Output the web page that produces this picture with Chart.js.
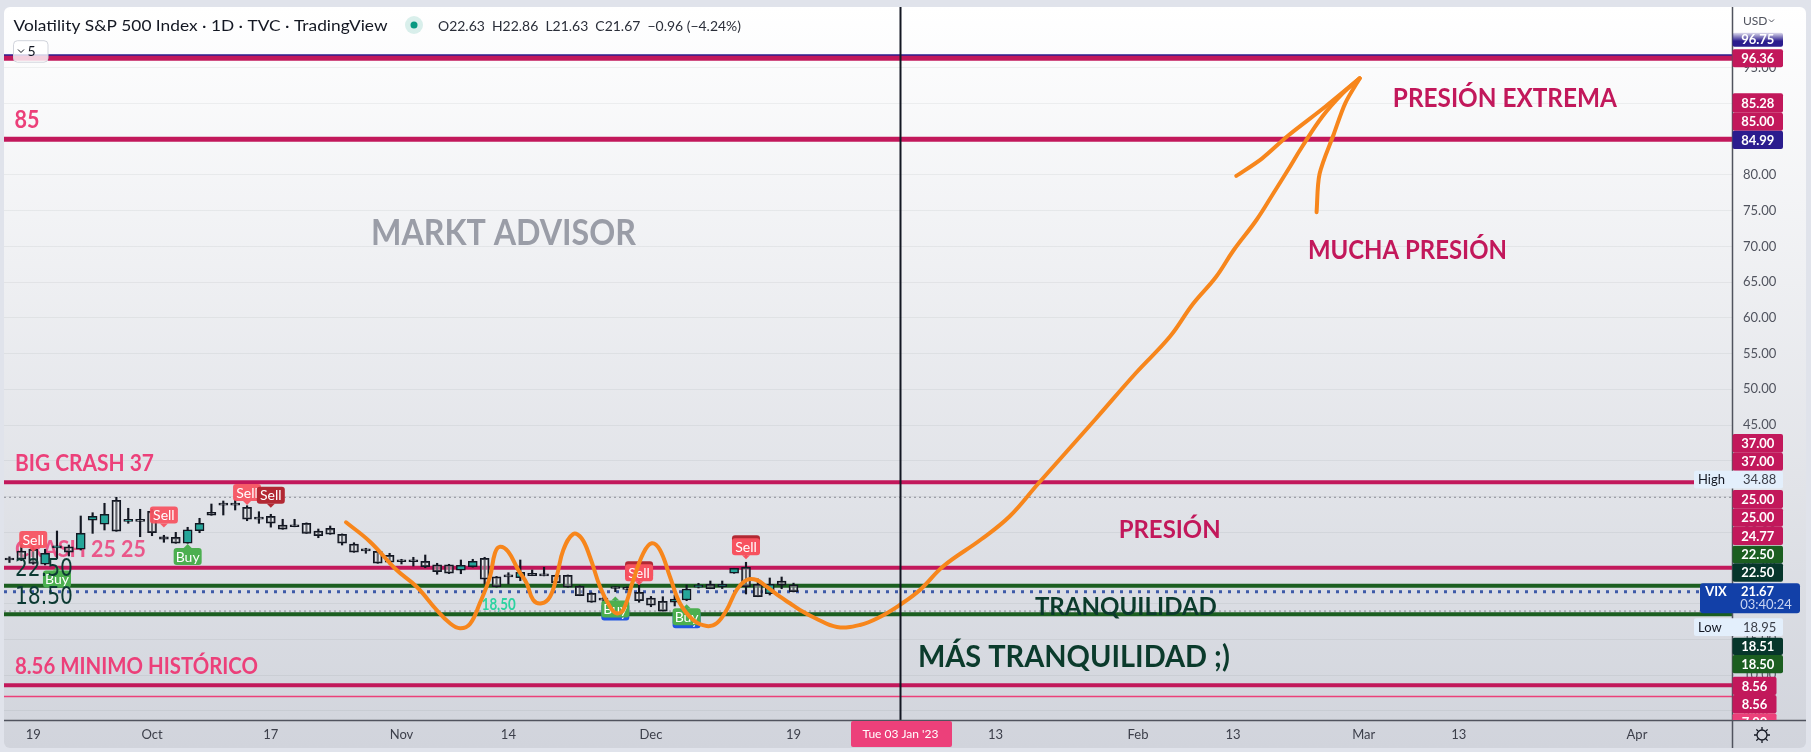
<!DOCTYPE html>
<html lang="es">
<head>
<meta charset="utf-8">
<title>Volatility S&P 500 Index · 1D</title>
<script src="https://cdn.jsdelivr.net/npm/chart.js@4.4.1/dist/chart.umd.min.js"></script>
<style>
  html, body { margin: 0; padding: 0; background: #e0e3eb; }
  #grafico { display: block; }
</style>
</head>
<body>
<canvas id="grafico" width="1811" height="752"></canvas>
<script>
// Velas diarias del VIX (15 sep 2022 - 19 dic 2022), eje x = número de barra
const apertura = [26.15, 27.36, 27.60, 25.50, 27.80, 27.96, 27.60, 31.66, 31.10, 34.46,
  31.50, 31.55, 32.90, 29.36, 29.27, 28.44, 30.20, 32.78, 33.82, 33.82,
  33.48, 31.86, 32.22, 31.00, 30.80, 31.24, 30.16, 30.53, 29.70, 28.34,
  27.42, 27.32, 26.76, 25.89, 25.89, 25.92, 25.44, 25.44, 24.66, 25.16,
  26.34, 23.76, 23.78, 23.62, 24.24, 23.92, 23.96, 23.96, 22.42, 21.44,
  20.52, 22.15, 22.02, 21.58, 20.78, 20.32, 20.18, 20.50, 22.28, 22.70,
  22.36, 24.24, 25.08, 22.70, 21.38, 23.16, 22.63];
const maximo = [26.55, 28.25, 27.90, 27.60, 30.16, 28.20, 32.26, 32.72, 34.04, 34.88,
  33.34, 33.20, 33.20, 29.56, 29.97, 30.68, 31.94, 33.94, 34.36, 34.50,
  33.70, 32.86, 32.50, 31.80, 31.80, 31.30, 30.44, 30.86, 29.75, 28.52,
  27.74, 27.50, 27.04, 26.20, 26.48, 26.80, 25.64, 25.50, 26.10, 26.20,
  26.48, 23.80, 24.32, 26.10, 24.70, 25.08, 24.00, 24.00, 22.50, 21.50,
  20.85, 22.36, 22.36, 22.60, 21.00, 20.96, 21.20, 22.60, 22.84, 23.16,
  23.16, 24.94, 25.78, 23.44, 23.58, 23.72, 22.86];
const minimo = [25.75, 26.00, 25.50, 25.40, 26.30, 26.66, 27.50, 29.83, 30.30, 30.12,
  31.24, 29.36, 29.50, 28.58, 28.44, 28.44, 29.92, 32.36, 32.40, 33.10,
  31.60, 31.24, 30.70, 30.40, 30.75, 29.83, 29.22, 29.70, 28.20, 27.18,
  27.04, 25.64, 25.54, 25.54, 25.26, 25.02, 24.10, 24.20, 24.18, 25.10,
  22.74, 22.30, 22.74, 23.20, 23.90, 23.88, 22.92, 22.28, 21.10, 20.18,
  20.26, 21.66, 21.90, 20.18, 19.56, 18.95, 19.66, 20.40, 22.18, 22.08,
  22.10, 24.24, 21.34, 20.96, 21.20, 22.08, 21.63];
const cierre = [26.10, 26.20, 25.63, 27.03, 27.95, 27.20, 29.83, 32.22, 32.50, 30.12,
  31.80, 31.50, 29.92, 29.00, 28.44, 30.34, 31.24, 32.36, 33.78, 33.78,
  31.80, 31.82, 31.24, 30.40, 30.75, 29.83, 29.50, 29.70, 28.44, 27.18,
  27.38, 25.64, 25.78, 25.85, 25.85, 25.16, 24.46, 24.24, 25.36, 25.92,
  23.40, 22.36, 23.74, 24.38, 23.90, 23.88, 22.92, 22.28, 21.10, 20.18,
  20.48, 22.11, 21.98, 20.40, 19.76, 18.95, 20.64, 22.04, 22.60, 22.08,
  22.70, 24.94, 22.36, 20.96, 22.70, 22.56, 21.67];

// etiquetas del eje de tiempo (número de barra)
const tickIdx = [2, 12, 22, 33, 42, 54, 66, 83, 95, 103, 114, 122, 137];
const tickLbl = ['19', 'Oct', '17', 'Nov', '14', 'Dec', '19', '13', 'Feb', '13', 'Mar', '13', 'Apr'];
const yTicks = [5, 10, 15, 20, 25, 30, 35, 40, 45, 50, 55, 60, 65, 70, 75, 80, 85, 90, 95];

// niveles horizontales dibujados
const nivelValor = [96.75, 96.36, 85.00, 37.00, 34.88, 25.00, 22.50, 21.67, 18.95, 18.50, 8.56, 7.00];

// señales Buy / Sell
const senalIdx = [2, 4, 13, 15, 20, 22, 51, 53, 57, 62];
const senalTipo = ['sell', 'buy', 'sell', 'buy', 'sell', 'sellDark', 'buyBlue', 'sellStack', 'buyBlue', 'sellStack'];
const senalValor = [28.97, 23.44, 32.40, 26.59, 35.55, 35.16, 19.24, 24.31, 18.16, 27.95];

// trazo naranja a mano alzada
const curvaIdx = [28.33, 30.35, 32.59, 34.28, 35.96, 37.08, 37.92, 38.76, 39.60, 40.45,
  40.87, 41.29, 41.99, 42.83, 43.54, 44.09, 44.80, 45.50, 46.06, 46.62,
  47.46, 48.16, 48.86, 49.71, 50.55, 51.11, 51.67, 52.51, 53.35, 54.06,
  54.76, 55.60, 56.44, 57.56, 58.69, 59.53, 60.37, 61.21, 62.05, 62.90,
  63.74, 64.86, 65.70, 66.54, 67.80, 69.65, 71.59, 73.27, 75.00, 76.64,
  78.63, 81.78, 84.18, 86.57, 91.43, 94.82, 97.69, 99.62, 101.56, 103.03,
  104.97, 106.41, 107.62, 108.80, 110.52, 112.21, 113.66];
const curvaVal = [31.38, 28.66, 24.70, 22.36, 19.10, 17.24, 16.54, 17.14, 20.08, 23.76,
  27.08, 27.96, 27.26, 24.70, 22.84, 20.50, 20.04, 20.96, 23.76, 27.50,
  29.74, 29.14, 26.56, 22.36, 19.56, 18.64, 19.10, 23.30, 27.04, 28.44,
  27.50, 23.76, 20.04, 17.70, 16.86, 17.24, 19.10, 21.90, 23.30, 23.30,
  22.36, 20.96, 20.04, 19.10, 17.98, 16.72, 17.00, 18.12, 19.87, 21.90,
  25.26, 28.97, 32.19, 36.74, 45.84, 52.28, 57.38, 61.94, 65.72, 69.43,
  73.70, 77.48, 80.70, 83.92, 88.19, 91.39, 93.54];
const flechaIzqIdx = [103.27, 105.43, 107.62, 110.73, 113.66];
const flechaIzqVal = [79.87, 82.30, 85.50, 89.52, 93.54];
const flechaDerIdx = [110.03, 110.28, 111.49, 112.45, 113.66];
const flechaDerVal = [74.79, 80.14, 85.77, 90.07, 93.54];

const CRIMSON = '#c2185b';
const ROSA = '#ec407a';
const VERDE_OSC = '#0b3b2c';
const NARANJA = '#f7861c';

const puntos = (xs, ys) => xs.map((x, i) => ({ x: x, y: ys[i] }));

// texto ajustado a un ancho dado, centrado verticalmente en yc
function texto(c, txt, x, yc, ancho, size, peso, familia, color) {
  c.save();
  c.font = peso + ' ' + size + 'px ' + familia;
  const w = c.measureText(txt).width;
  c.translate(x, yc + size * 0.36);
  if (ancho) c.scale(ancho / w, 1);
  c.fillStyle = color;
  c.textAlign = 'left';
  c.textBaseline = 'alphabetic';
  c.fillText(txt, 0, 0);
  c.restore();
}

function caja(c, x, y, w, h, r, color) {
  c.fillStyle = color;
  c.beginPath();
  c.roundRect(x, y, w, h, r);
  c.fill();
}

function etiquetaSenal(c, x, yc, tipo) {
  const w = 28, h = 17;
  const dibuja = (color, dy, texto2, arriba) => {
    const y0 = yc - h / 2 + dy;
    caja(c, x - w / 2, y0, w, h, 3, color);
    c.beginPath();
    if (arriba) {
      c.moveTo(x - 4, y0); c.lineTo(x, y0 - 4); c.lineTo(x + 4, y0);
    } else {
      c.moveTo(x - 4, y0 + h); c.lineTo(x, y0 + h + 4); c.lineTo(x + 4, y0 + h);
    }
    c.fill();
    c.fillStyle = '#ffffff';
    c.font = '14px Lato';
    c.textAlign = 'center';
    c.textBaseline = 'middle';
    c.fillText(texto2, x, y0 + h / 2 + 0.5);
  };
  c.save();
  if (tipo === 'sell') dibuja('rgba(247,82,95,0.93)', 0, 'Sell', false);
  if (tipo === 'sellDark') dibuja('#b22833', 0, 'Sell', false);
  if (tipo === 'sellStack') { dibuja('#b22833', -3, 'Sell', false); dibuja('#f7525f', 0, 'Sell', false); }
  if (tipo === 'buy') dibuja('#4caf50', 0, 'Buy', true);
  if (tipo === 'buyBlue') { dibuja('#2156e0', 3, 'Buy', true); dibuja('#4caf50', 0, 'Buy', true); }
  c.restore();
}

const estiloNivel = [
  { color: '#2b1d8e', w: 2 }, { color: CRIMSON, w: 5 }, { color: CRIMSON, w: 5 },
  { color: CRIMSON, w: 4 }, { color: '#8a8d96', w: 1, dash: [2, 3] }, { color: CRIMSON, w: 4 },
  { color: '#1b5e20', w: 4 }, { color: '#3d5aa8', w: 3, dash: [3, 6] }, { color: '#8a8d96', w: 1, dash: [2, 3] },
  { color: '#1b5e20', w: 4 }, { color: CRIMSON, w: 4 }, { color: ROSA, w: 1.5 }
];

// textos dibujados sobre el gráfico (posición en barra / valor)
const notas = [
  { t: '85', i: 0.43, v: 87.77, w: 25, s: 24, p: 'bold', f: 'Lato', c: ROSA },
  { t: 'MARKT ADVISOR', i: 30.43, v: 72.09, w: 265, s: 37, p: 'bold', f: 'Lato', c: '#9a9da7' },
  { t: 'PRESIÓN EXTREMA', i: 116.45, v: 90.78, w: 224, s: 26, p: 'bold', f: 'Lato', c: CRIMSON },
  { t: 'MUCHA PRESIÓN', i: 109.3, v: 69.6, w: 199, s: 26, p: 'bold', f: 'Lato', c: CRIMSON },
  { t: 'PRESIÓN', i: 93.37, v: 30.4, w: 102, s: 25, p: 'bold', f: 'Lato', c: CRIMSON },
  { t: 'TRANQUILIDAD', i: 86.32, v: 19.7, w: 182, s: 25, p: 'bold', f: 'Lato', c: VERDE_OSC },
  { t: 'MÁS TRANQUILIDAD ;)', i: 76.47, v: 12.66, w: 312, s: 30, p: 'bold', f: 'Lato', c: VERDE_OSC },
  { t: 'BIG CRASH 37', i: 0.46, v: 39.68, w: 139, s: 22, p: 'bold', f: 'Lato', c: ROSA },
  { t: 'CRASH 25 25', i: 0.46, v: 27.57, w: 131, s: 22, p: 'bold', f: 'Lato', c: 'rgba(236,64,122,0.85)' },
  { t: '18,50', i: 39.75, v: 19.94, w: 34, s: 17, p: 'bold', f: 'Lato', c: '#2cd3a0' },
  { t: '8.56 MINIMO HISTÓRICO', i: 0.46, v: 11.26, w: 243, s: 22, p: 'bold', f: 'Lato', c: ROSA }
];
const notasArriba = [
  { t: '22.50', i: 0.46, v: 25.12, w: 58, s: 25, p: 'normal', f: 'DejaVu Sans', c: '#0d3b34' },
  { t: '18.50', i: 0.46, v: 21.2, w: 58, s: 25, p: 'normal', f: 'DejaVu Sans', c: '#0d3b34' }
];

// etiquetas de precio del eje derecho (apiladas como en TradingView)
const etiquetasEje = [
  { t: '96.75', bg: '#2b1d8e', y0: 32.7, h: 14, fade: true },
  { t: '96.36', bg: CRIMSON, y0: 49.3, h: 18 },
  { t: '85.28', bg: CRIMSON, y0: 93.3, h: 19.4 },
  { t: '85.00', bg: CRIMSON, y0: 112.7, h: 18 },
  { t: '84.99', bg: '#2b1d8e', y0: 130.7, h: 18.3 },
  { t: '37.00', bg: CRIMSON, y0: 434, h: 18.7 },
  { t: '37.00', bg: CRIMSON, y0: 452.7, h: 18 },
  { t: '25.00', bg: CRIMSON, y0: 490, h: 18.3 },
  { t: '25.00', bg: CRIMSON, y0: 508.3, h: 18.4 },
  { t: '24.77', bg: CRIMSON, y0: 526.7, h: 18.3 },
  { t: '22.50', bg: '#1b5e20', y0: 545.7, h: 17.6 },
  { t: '22.50', bg: '#06362b', y0: 563.3, h: 18.4 },
  { t: '18.51', bg: '#06362b', y0: 637.7, h: 17.3 },
  { t: '18.50', bg: '#1b5e20', y0: 655, h: 18.3 },
  { t: '8.56', bg: CRIMSON, y0: 676.7, h: 18.3, w: 44 },
  { t: '8.56', bg: CRIMSON, y0: 695, h: 18.3, w: 44 },
  { t: '7.00', bg: ROSA, y0: 713.3, h: 18.3, w: 44 }
];

const pluginDibujo = {
  id: 'dibujo',
  beforeDraw(chart) {
    const c = chart.ctx;
    c.save();
    c.fillStyle = '#e0e3eb';
    c.fillRect(0, 0, chart.width, chart.height);
    const g = c.createLinearGradient(0, 7, 0, 748);
    g.addColorStop(0, '#ffffff');
    g.addColorStop(1, '#d1d4dc');
    caja(c, 4, 7, 1802, 741, 6, g);
    c.restore();
  },
  beforeDatasetsDraw(chart) {
    const c = chart.ctx, a = chart.chartArea, xs = chart.scales.x, ys = chart.scales.y;
    c.save();
    c.beginPath();
    c.rect(a.left, a.top - 4, a.right - a.left, a.bottom - a.top + 4);
    c.clip();
    nivelValor.forEach((v, k) => {
      const st = estiloNivel[k];
      const y = ys.getPixelForValue(v);
      c.strokeStyle = st.color;
      c.lineWidth = st.w;
      c.setLineDash(st.dash || []);
      c.beginPath();
      c.moveTo(a.left, y);
      c.lineTo(a.right, y);
      c.stroke();
    });
    c.setLineDash([]);
    notas.forEach(n => texto(c, n.t, xs.getPixelForValue(n.i), ys.getPixelForValue(n.v), n.w, n.s, n.p, n.f, n.c));
    c.restore();
  },
  afterDatasetDraw(chart, args) {
    if (args.index !== 3) return;
    const c = chart.ctx, xs = chart.scales.x, ys = chart.scales.y;
    senalIdx.forEach((i, k) => etiquetaSenal(c, xs.getPixelForValue(i), ys.getPixelForValue(senalValor[k]), senalTipo[k]));
    notasArriba.forEach(n => texto(c, n.t, xs.getPixelForValue(n.i), ys.getPixelForValue(n.v), n.w, n.s, n.p, n.f, n.c));
  },
  afterDraw(chart) {
    const c = chart.ctx, a = chart.chartArea, xs = chart.scales.x, ys = chart.scales.y;
    c.save();
    // línea vertical del cursor (3 ene 2023)
    const xc = Math.round(xs.getPixelForValue(75)) + 0.5;
    c.strokeStyle = '#131722';
    c.lineWidth = 2;
    c.beginPath();
    c.moveTo(xc, 7);
    c.lineTo(xc, a.bottom);
    c.stroke();

    // separadores de ejes
    c.strokeStyle = '#50535e';
    c.lineWidth = 1.5;
    c.beginPath();
    c.moveTo(a.right + 0.5, 7);
    c.lineTo(a.right + 0.5, 748);
    c.moveTo(4, a.bottom + 0.5);
    c.lineTo(1806, a.bottom + 0.5);
    c.stroke();

    // etiquetas de precio
    c.save();
    c.beginPath();
    c.rect(a.right, 7, 80, a.bottom - 7);
    c.clip();
    etiquetasEje.forEach(e => {
      let bg = e.bg;
      if (e.fade) {
        bg = c.createLinearGradient(0, e.y0, 0, e.y0 + e.h);
        bg.addColorStop(0, 'rgba(43,29,142,0.15)');
        bg.addColorStop(0.6, e.bg);
        bg.addColorStop(1, e.bg);
      }
      const w = e.w || 50.5;
      caja(c, a.right + 0.5, e.y0, w, e.h, 2, bg);
      c.fillStyle = '#ffffff';
      c.font = 'bold 13px Lato';
      c.textAlign = 'center';
      c.textBaseline = 'middle';
      c.fillText(e.t, a.right + 0.5 + w / 2, e.y0 + e.h / 2 + 0.5);
    });
    c.restore();

    // High / Low
    [['High', '34.88', 470.7], ['Low', '18.95', 618.3]].forEach(([t, v, y0]) => {
      caja(c, 1694, y0, 89, 17.8, 2, '#e3effc');
      c.font = '13px Lato';
      c.textBaseline = 'middle';
      c.textAlign = 'left';
      c.fillStyle = '#131722';
      c.fillText(t, 1698, y0 + 9.3);
      c.fillStyle = '#3b3e48';
      c.fillText(v, 1743, y0 + 9.3);
    });

    // VIX
    caja(c, 1700, 583.3, 100, 30, 3, '#1240a8');
    c.fillStyle = '#ffffff';
    c.font = 'bold 13px Lato';
    c.textAlign = 'center';
    c.textBaseline = 'middle';
    c.fillText('VIX', 1716, 592);
    c.fillText('21.67', 1757.5, 591.5);
    c.fillStyle = '#c9d4f2';
    c.font = '13px Lato';
    c.fillText('03:40:24', 1766, 605);

    // USD
    c.fillStyle = '#50535e';
    c.font = '12px Lato';
    c.textAlign = 'left';
    c.fillText('USD', 1743, 21);
    c.strokeStyle = '#50535e';
    c.lineWidth = 1;
    c.beginPath();
    c.moveTo(1769, 19.5); c.lineTo(1771.5, 22); c.lineTo(1774, 19.5);
    c.stroke();

    // fecha del cursor
    caja(c, 851, a.bottom + 1, 101, 26, 2, ROSA);
    c.fillStyle = '#ffffff';
    c.font = '12px Lato';
    c.textAlign = 'center';
    c.fillText("Tue 03 Jan '23", xc, a.bottom + 14.5);

    // engranaje
    const gx = 1762, gy = 735;
    c.strokeStyle = '#131722';
    c.lineWidth = 1.3;
    c.beginPath();
    c.arc(gx, gy, 5, 0, Math.PI * 2);
    for (let k = 0; k < 8; k++) {
      const ang = k * Math.PI / 4;
      c.moveTo(gx + Math.cos(ang) * 5, gy + Math.sin(ang) * 5);
      c.lineTo(gx + Math.cos(ang) * 8, gy + Math.sin(ang) * 8);
    }
    c.stroke();

    // cabecera
    texto(c, 'Volatility S&P 500 Index · 1D · TVC · TradingView', 13.5, 25, 374, 16, 'normal', 'Lato', '#131722');
    c.fillStyle = 'rgba(8,153,129,0.15)';
    c.beginPath(); c.arc(414, 25, 9, 0, Math.PI * 2); c.fill();
    c.fillStyle = '#089981';
    c.beginPath(); c.arc(414, 25, 3.5, 0, Math.PI * 2); c.fill();
    texto(c, 'O22.63  H22.86  L21.63  C21.67  −0.96 (−4.24%)', 438, 25.5, 303, 14, 'normal', 'Lato', '#2a2e39');

    // selector "5"
    caja(c, 13.5, 40.7, 34.5, 21.5, 4, 'rgba(255,255,255,0.8)');
    c.strokeStyle = '#d1d4dc';
    c.lineWidth = 1;
    c.beginPath(); c.roundRect(13.5, 40.7, 34.5, 21.5, 4); c.stroke();
    c.strokeStyle = '#131722';
    c.beginPath(); c.moveTo(18, 49.5); c.lineTo(21, 52.5); c.lineTo(24, 49.5); c.stroke();
    c.fillStyle = '#131722';
    c.font = '14px Lato';
    c.textAlign = 'left';
    c.textBaseline = 'middle';
    c.fillText('5', 27.5, 51.5);
    c.restore();
  }
};

const velasCuerpo = apertura.map((o, i) => ({ x: i, y: [o, cierre[i]] }));
const velasMecha = minimo.map((l, i) => ({ x: i, y: [l, maximo[i]] }));
const colorCuerpo = apertura.map((o, i) => cierre[i] > o ? '#26a69a' : 'rgba(255,255,255,0.35)');

const ctx = document.getElementById('grafico').getContext('2d');
const grafico = new Chart(ctx, {
  type: 'bar',
  data: {
    datasets: [
      { type: 'line', label: 'flecha izq', data: puntos(flechaIzqIdx, flechaIzqVal), borderColor: NARANJA, borderWidth: 4, pointRadius: 0, tension: 0.3, borderCapStyle: 'round', borderJoinStyle: 'round' },
      { type: 'line', label: 'flecha der', data: puntos(flechaDerIdx, flechaDerVal), borderColor: NARANJA, borderWidth: 4, pointRadius: 0, tension: 0.3, borderCapStyle: 'round', borderJoinStyle: 'round' },
      { type: 'line', label: 'trazo', data: puntos(curvaIdx, curvaVal), borderColor: NARANJA, borderWidth: 4, pointRadius: 0, tension: 0.4, borderCapStyle: 'round', borderJoinStyle: 'round' },
      { type: 'bar', label: 'cuerpo', data: velasCuerpo, backgroundColor: colorCuerpo, borderColor: '#131722', borderWidth: 1.5, borderSkipped: false, barThickness: 9, minBarLength: 2, grouped: false },
      { type: 'bar', label: 'mecha', data: velasMecha, backgroundColor: '#131722', borderWidth: 0, barThickness: 1.5, grouped: false }
    ]
  },
  options: {
    responsive: false,
    devicePixelRatio: 1,
    animation: false,
    events: [],
    layout: { padding: { left: 4, top: 10, right: 6, bottom: 4 } },
    plugins: { legend: { display: false }, tooltip: { enabled: false } },
    scales: {
      x: {
        type: 'linear', min: -0.46, max: 145, offset: false,
        grid: { display: false, drawTicks: false, offset: false },
        border: { display: false },
        afterBuildTicks: s => { s.ticks = tickIdx.map(v => ({ value: v })); },
        afterFit: s => { s.height = 28; s.paddingLeft = 0; s.paddingRight = 0; },
        ticks: {
          autoSkip: false, maxRotation: 0, padding: 7, color: '#3c3f4a',
          font: { family: 'Lato', size: 13 },
          callback: v => tickLbl[tickIdx.indexOf(v)] ?? ''
        }
      },
      y: {
        position: 'right', min: 3.7, max: 103.1,
        grid: { color: 'rgba(42,46,57,0.06)', drawTicks: false },
        border: { display: false },
        afterBuildTicks: s => { s.ticks = yTicks.map(v => ({ value: v })); },
        afterFit: s => { s.width = 73; s.paddingTop = 0; s.paddingBottom = 0; },
        ticks: {
          padding: 11, color: '#50535e',
          font: { family: 'Lato', size: 13 },
          callback: v => Number(v).toFixed(2)
        }
      }
    }
  },
  plugins: [pluginDibujo]
});
</script>
</body>
</html>
